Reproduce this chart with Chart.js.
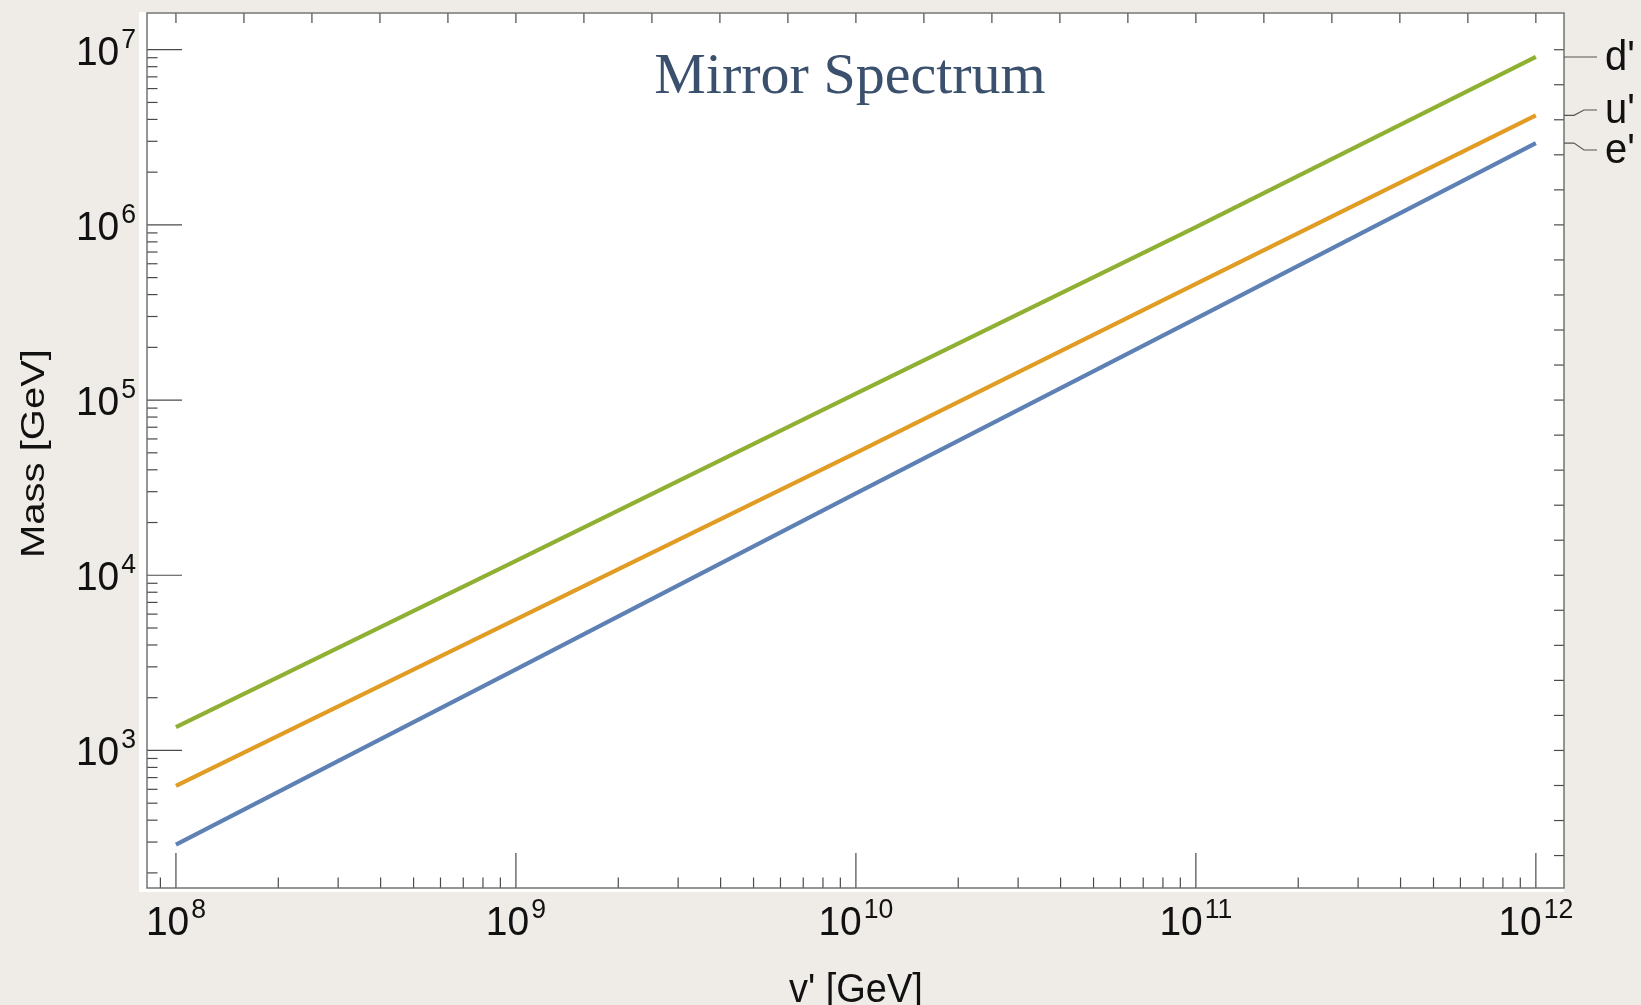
<!DOCTYPE html>
<html>
<head>
<meta charset="utf-8">
<title>Mirror Spectrum</title>
<script src="https://cdn.jsdelivr.net/npm/chart.js@4.4.0/dist/chart.umd.min.js"></script>
<style>
  html, body { margin: 0; padding: 0; background: #eeebe6; }
  #wrap { width: 1641px; height: 1005px; }
</style>
</head>
<body>
<div id="wrap"><canvas id="myChart" width="1641" height="1005"></canvas></div>
<script>
// v' values (GeV) and the masses
var vPrime = [1e8, 1e9, 1e10, 1e11, 1e12];
var massE = [290, 2900, 29300, 292000, 2930000];
var massU = [628, 5600, 49900, 460000, 4220000];
var massD = [1360, 12100, 109000, 970000, 9090000];

var seriesNames = ["e'", "u'", "d'"];
var seriesColors = ["#5e81b5", "#e19c24", "#8fb032"];

// labelled decades on the frame
var xTickExps = [8, 9, 10, 11, 12];
var yTickExps = [3, 4, 5, 6, 7];

var SANS = '"Liberation Sans", Arial, sans-serif';

function points(ys) {
  return vPrime.map(function (x, i) { return { x: x, y: ys[i] }; });
}

function drawText(ctx, text, x, y, font, align, kx) {
  ctx.save();
  ctx.translate(x, y);
  ctx.scale(kx, 1);
  ctx.font = font;
  ctx.textAlign = align;
  ctx.textBaseline = "alphabetic";
  ctx.fillText(text, 0, 0);
  ctx.restore();
}

function powerLabel(ctx, exp, x, y, mode) {
  // draws "10" with a superscript exponent
  var kx = 0.95;
  var big = "41px " + SANS, small = "28px " + SANS;
  ctx.font = big;
  var w1 = ctx.measureText("10").width * kx;
  ctx.font = small;
  var w2 = ctx.measureText(String(exp)).width * kx;
  var gap = 2;
  var left = mode === "center" ? x - (w1 + gap + w2) / 2 : x - (w1 + gap + w2);
  drawText(ctx, "10", left, y, big, "left", kx);
  drawText(ctx, String(exp), left + w1 + gap, y - 17, small, "left", kx);
}

var framePlugin = {
  id: "framePlugin",
  beforeDraw: function (chart) {
    var ctx = chart.ctx, a = chart.chartArea;
    ctx.save();
    ctx.fillStyle = "#efece7";
    ctx.fillRect(0, 0, chart.width, chart.height);
    ctx.fillStyle = "#ffffff";
    ctx.fillRect(a.left - 8, a.top - 1, a.right - a.left + 8, a.bottom - a.top + 5);
    ctx.restore();
  },
  afterDatasetsDraw: function (chart) {
    var ctx = chart.ctx, a = chart.chartArea;
    var xs = chart.scales.x, ys = chart.scales.y;
    ctx.save();

    // ticks
    ctx.strokeStyle = "#4a4a4a";
    ctx.lineWidth = 1.2;
    function hTick(y, x0, len) {
      ctx.beginPath(); ctx.moveTo(x0, y); ctx.lineTo(x0 + len, y); ctx.stroke();
    }
    function vTick(x, y0, len) {
      ctx.beginPath(); ctx.moveTo(x, y0); ctx.lineTo(x, y0 + len); ctx.stroke();
    }
    var e, k, v, p;
    // bottom: log ticks
    for (e = 7; e <= 12; e++) {
      for (k = 1; k <= 9; k++) {
        v = k * Math.pow(10, e);
        p = xs.getPixelForValue(v);
        if (p < a.left + 1 || p > a.right - 1) continue;
        vTick(p, a.bottom, k === 1 ? -35 : -10.5);
      }
    }
    // left: log ticks
    for (e = 2; e <= 7; e++) {
      for (k = 1; k <= 9; k++) {
        v = k * Math.pow(10, e);
        p = ys.getPixelForValue(v);
        if (p < a.top + 1 || p > a.bottom - 1) continue;
        hTick(p, a.left, k === 1 ? 35 : 10.5);
      }
    }
    // top and right: evenly spaced ticks every 0.2 decade
    for (k = 0; k <= 25; k++) {
      p = xs.getPixelForValue(Math.pow(10, 8 + 0.2 * k));
      if (p > a.left + 1 && p < a.right - 1) vTick(p, a.top, 10);
      p = ys.getPixelForValue(Math.pow(10, 7 - 0.2 * k));
      if (p > a.top + 1 && p < a.bottom - 1) hTick(p, a.right, -10);
    }

    // frame
    ctx.strokeStyle = "#6a6a6a";
    ctx.lineWidth = 1.4;
    ctx.strokeRect(a.left, a.top, a.right - a.left, a.bottom - a.top);

    // tick labels
    ctx.fillStyle = "#111111";
    xTickExps.forEach(function (ex) {
      powerLabel(ctx, ex, xs.getPixelForValue(Math.pow(10, ex)), 935, "center");
    });
    yTickExps.forEach(function (ex) {
      powerLabel(ctx, ex, 136, ys.getPixelForValue(Math.pow(10, ex)) + 15, "right");
    });

    // axis titles
    drawText(ctx, "v' [GeV]", xs.getPixelForValue(1e10), 1002, "40px " + SANS, "center", 0.95);
    ctx.save();
    ctx.translate(44, (a.top + a.bottom) / 2 + 3);
    ctx.rotate(-Math.PI / 2);
    ctx.scale(1, 0.85);
    ctx.font = "40px " + SANS;
    ctx.textAlign = "center";
    ctx.fillText("Mass [GeV]", 0, 0);
    ctx.restore();

    // title inside the frame
    ctx.fillStyle = "#3a506c";
    ctx.font = '58px "Liberation Serif", "Times New Roman", serif';
    ctx.textAlign = "center";
    ctx.fillText("Mirror Spectrum", 850, 93);

    // curve labels with leader lines
    var labelY = [150, 110, 57];
    var ends = [massE, massU, massD];
    ctx.strokeStyle = "#555555";
    ctx.lineWidth = 1.1;
    ctx.fillStyle = "#111111";
    for (var i = 0; i < 3; i++) {
      var yEnd = ys.getPixelForValue(ends[i][ends[i].length - 1]);
      ctx.beginPath();
      ctx.moveTo(a.right, yEnd);
      ctx.lineTo(a.right + 10, yEnd);
      ctx.lineTo(a.right + 20, labelY[i]);
      ctx.lineTo(a.right + 33, labelY[i]);
      ctx.stroke();
      drawText(ctx, seriesNames[i], a.right + 41, labelY[i] + 13, "42px " + SANS, "left", 0.95);
    }
    ctx.restore();
  }
};

var ctx = document.getElementById("myChart").getContext("2d");
var chart = new Chart(ctx, {
  type: "scatter",
  data: {
    datasets: [
      { label: seriesNames[0], data: points(massE), borderColor: seriesColors[0] },
      { label: seriesNames[1], data: points(massU), borderColor: seriesColors[1] },
      { label: seriesNames[2], data: points(massD), borderColor: seriesColors[2] },
    ],
  },
  options: {
    responsive: false,
    animation: false,
    showLine: true,
    elements: {
      line: { borderWidth: 4.2, tension: 0, borderCapStyle: "butt" },
      point: { radius: 0, hoverRadius: 0 },
    },
    layout: { padding: { left: 147, top: 13, right: 77, bottom: 117 } },
    plugins: { legend: { display: false }, title: { display: false }, tooltip: { enabled: false } },
    scales: {
      x: { type: "logarithmic", min: 8.22e7, max: 1.21e12, display: false },
      y: { type: "logarithmic", min: 164, max: 1.62e7, display: false },
    },
  },
  plugins: [framePlugin],
});
</script>
</body>
</html>
